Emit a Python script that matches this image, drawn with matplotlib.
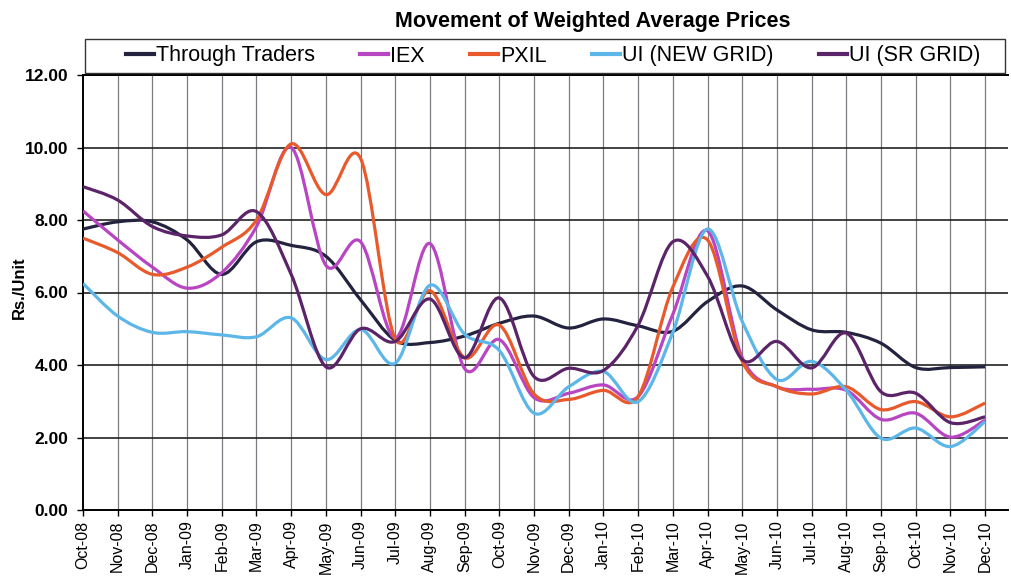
import numpy as np
import matplotlib
matplotlib.use("Agg")
import matplotlib.pyplot as plt
from matplotlib.path import Path
from matplotlib.patches import PathPatch, Rectangle
from matplotlib.lines import Line2D

plt.rcParams['font.family'] = ['Liberation Sans', 'DejaVu Sans']

months = ["Oct-08", "Nov-08", "Dec-08", "Jan-09", "Feb-09", "Mar-09", "Apr-09", "May-09",
          "Jun-09", "Jul-09", "Aug-09", "Sep-09", "Oct-09", "Nov-09", "Dec-09", "Jan-10",
          "Feb-10", "Mar-10", "Apr-10", "May-10", "Jun-10", "Jul-10", "Aug-10", "Sep-10",
          "Oct-10", "Nov-10", "Dec-10"]

through_traders = [7.75, 7.95, 7.95, 7.45, 6.5, 7.4, 7.3, 7.0, 5.8, 4.68, 4.62, 4.8, 5.15, 5.35,
                   5.02, 5.27, 5.08, 4.93, 5.75, 6.18, 5.52, 4.97, 4.9, 4.6, 3.93, 3.93, 3.95]
iex = [8.25, 7.45, 6.7, 6.12, 6.55, 7.82, 10.0, 6.75, 7.4, 4.75, 7.35, 3.9, 4.7, 3.1,
       3.22, 3.45, 3.13, 5.4, 7.7, 4.2, 3.4, 3.33, 3.3, 2.5, 2.67, 2.01, 2.48]
pxil = [7.5, 7.1, 6.5, 6.7, 7.25, 8.0, 10.1, 8.7, 9.7, 4.72, 6.05, 4.2, 5.1, 3.2,
        3.05, 3.3, 3.13, 6.15, 7.45, 4.1, 3.4, 3.2, 3.4, 2.77, 2.99, 2.57, 2.95]
ui_new = [6.25, 5.35, 4.9, 4.92, 4.83, 4.78, 5.3, 4.15, 4.98, 4.05, 6.2, 4.85, 4.4, 2.67,
          3.4, 3.82, 2.99, 4.9, 7.75, 5.2, 3.6, 4.1, 3.3, 1.98, 2.26, 1.75, 2.44]
ui_sr = [8.92, 8.55, 7.82, 7.56, 7.59, 8.23, 6.5, 3.95, 5.0, 4.65, 5.82, 4.2, 5.85, 3.68,
         3.91, 3.85, 5.1, 7.4, 6.45, 4.15, 4.65, 3.92, 4.88, 3.26, 3.22, 2.41, 2.57]

series = [("Through Traders", through_traders, "#23233f"),
          ("IEX", iex, "#b845c2"),
          ("PXIL", pxil, "#e85a2c"),
          ("UI (NEW GRID)", ui_new, "#5cb6e8"),
          ("UI (SR GRID)", ui_sr, "#5c2468")]


def smooth_path(x, y):
    # excel-like smoothed line: cubic bezier through every point
    n = len(x)
    verts = [(x[0], y[0])]
    codes = [Path.MOVETO]
    for i in range(n - 1):
        a = max(i - 1, 0)
        b = min(i + 2, n - 1)
        c1 = (x[i] + (x[i + 1] - x[a]) / 6, y[i] + (y[i + 1] - y[a]) / 6)
        c2 = (x[i + 1] - (x[b] - x[i]) / 6, y[i + 1] - (y[b] - y[i]) / 6)
        verts += [c1, c2, (x[i + 1], y[i + 1])]
        codes += [Path.CURVE4] * 3
    return Path(verts, codes)


fig = plt.figure(figsize=(10.11, 5.76), dpi=100)
ax = fig.add_axes([83 / 1011, 1 - 510 / 576, (1008 - 83) / 1011, (510 - 75) / 576])

x = np.arange(len(months))
for name, vals, col in series:
    ax.add_patch(PathPatch(smooth_path(x, np.array(vals)), facecolor="none",
                           edgecolor=col, lw=2.3, zorder=3))

ax.set_xlim(0, 26.66)
ax.set_ylim(0, 12)
ax.set_yticks(np.arange(0, 13, 2))
ax.set_yticklabels([f"{v:.2f}" for v in np.arange(0, 13, 2)], fontsize=12.5, fontweight="bold")
ax.set_xticks(x)
ax.set_xticklabels(months, rotation=90, fontsize=11.5)
ax.tick_params(axis="y", length=4.5, width=1, pad=6)
ax.tick_params(axis="x", length=4.5, width=1, pad=3)

for v in x[1:]:
    ax.axvline(v, color="#7a7a80", lw=0.9, zorder=1)
for v in np.arange(2, 13, 2):
    ax.axhline(v, color="#222222", lw=1.2, zorder=1)

ax.spines["right"].set_visible(False)
ax.spines["left"].set_linewidth(1.4)
ax.spines["bottom"].set_linewidth(1.4)
ax.spines["top"].set_linewidth(1.4)

fig.text(19 / 1011, 1 - 288 / 576, "Rs./Unit", rotation=90, ha="center", va="center",
         fontsize=12, fontweight="bold")

fig.text(593 / 1011, 1 - 21 / 576, "Movement of Weighted Average Prices",
         ha="center", va="center", fontsize=15.5, fontweight="bold")

fig.patches.append(Rectangle((85 / 1011, 1 - 73 / 576), 920 / 1011, 34 / 576,
                             transform=fig.transFigure, fill=False, edgecolor="#333333",
                             lw=1.0))
handles = [Line2D([], [], color=c, lw=3) for _, _, c in series]
fig.legend(handles, [s[0] for s in series], loc="center", ncol=5,
           bbox_to_anchor=(553 / 1011, 1 - 56 / 576), frameon=False, fontsize=15.5,
           handlelength=1.3, handletextpad=0.1, columnspacing=2.1)

fig.savefig("out.png", dpi=100)
